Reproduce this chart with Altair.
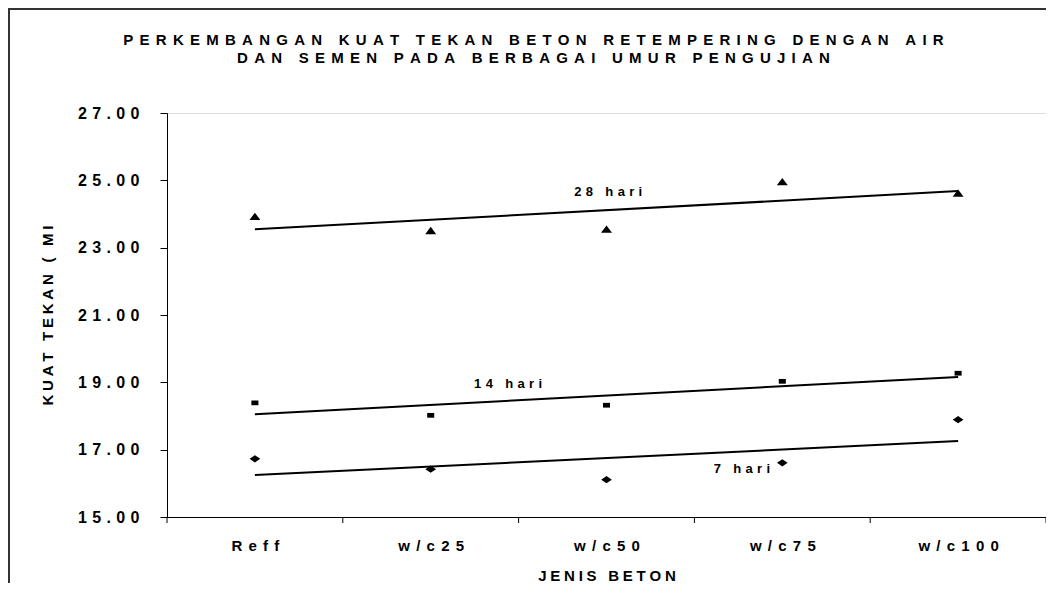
import json
import altair as alt
import pandas as pd

# ---------------- data ----------------
categories = ["Reff", "w/c25", "w/c50", "w/c75", "w/c100"]
cat_index = [0, 1, 2, 3, 4]
series_names = ["28 hari", "14 hari", "7 hari"]
values_28 = [23.93, 23.51, 23.55, 24.96, 24.62]
values_14 = [18.39, 18.02, 18.32, 19.03, 19.27]
values_7 = [16.73, 16.42, 16.11, 16.61, 17.89]
label_text = ["28 hari", "14 hari", "7 hari"]
label_x = [2.01, 1.44, 2.77]
label_y = [24.64, 18.96, 16.42]
y_ticks = [15, 17, 19, 21, 23, 25, 27]
x_bounds = [-0.5, 0.5, 1.5, 2.5, 3.5, 4.5]

title_lines = ["PERKEMBANGAN KUAT TEKAN BETON RETEMPERING DENGAN AIR",
               "DAN SEMEN PADA BERBAGAI UMUR PENGUJIAN"]
y_title = "KUAT TEKAN ( MI"
x_title = "JENIS BETON"

# ---------------- styling ----------------
FONT = "Liberation Sans"
GAP = "\u2005\u2006"
TPS = "\u2004"
FPS = "\u2005"


def spaced(s, sep=GAP):
    return sep.join(s)


W, H = 879, 404

rows = []
for name, vals in zip(series_names, [values_28, values_14, values_7]):
    for c, i, v in zip(categories, cat_index, vals):
        rows.append({"cat": c, "idx": i, "series": name, "value": v})
df = pd.DataFrame(rows)
labels_df = pd.DataFrame({"label": [spaced(t, TPS) for t in label_text],
                          "lx": label_x, "ly": label_y})
bounds_df = pd.DataFrame({"b": x_bounds})

x_scale = alt.Scale(domain=[-0.5, 4.5], nice=False, zero=False)
y_scale = alt.Scale(domain=[15, 27], nice=False, zero=False)

cat_labels = json.dumps([spaced(c) for c in categories], ensure_ascii=False)
x_axis = alt.Axis(
    values=cat_index, labelExpr=f"{cat_labels}[datum.value]",
    ticks=False, tickSize=0, labelPadding=21, grid=False,
    domainColor="black", domainWidth=1,
    labelFont=FONT, labelFontSize=15, labelFontWeight="bold", labelColor="black",
    titleFont=FONT, titleFontSize=15, titleFontWeight="bold", titleColor="black",
    titleX=W / 2, titleY=58, titleBaseline="middle", titleAlign="center",
)
y_axis = alt.Axis(
    values=y_ticks,
    labelExpr=f"join(split(format(datum.value, '.2f'), ''), '{TPS}')",
    tickSize=7, tickColor="black", labelPadding=21, grid=False,
    domainColor="black", domainWidth=1,
    labelFont=FONT, labelFontSize=16, labelFontWeight="bold", labelColor="black",
    titleFont=FONT, titleFontSize=15, titleFontWeight="bold", titleColor="black",
    titleX=-120, titleY=H / 2, titleAngle=270, titleBaseline="middle", titleAlign="center",
)

shape_paths = [
    "M0,-0.66L1,0.66L-1,0.66Z",
    "M-0.64,-0.43L0.64,-0.43L0.64,0.43L-0.64,0.43Z",
    "M0,-0.66L0.97,0L0,0.66L-0.97,0Z",
]

base = alt.Chart(df)

points = base.mark_point(filled=True, color="black", opacity=1, size=121, strokeWidth=0).encode(
    x=alt.X("idx:Q", scale=x_scale, axis=x_axis, title=spaced(x_title, FPS)),
    y=alt.Y("value:Q", scale=y_scale, axis=y_axis, title=spaced(y_title, FPS)),
    shape=alt.Shape("series:N", scale=alt.Scale(domain=series_names, range=shape_paths), legend=None),
)

trend = base.transform_regression("idx", "value", groupby=["series"]).mark_line(
    color="black", strokeWidth=2
).encode(
    x=alt.X("idx:Q", scale=x_scale, axis=x_axis, title=spaced(x_title, FPS)),
    y=alt.Y("value:Q", scale=y_scale, axis=y_axis, title=spaced(y_title, FPS)),
    detail="series:N",
)

texts = alt.Chart(labels_df).mark_text(
    font=FONT, fontSize=13, fontWeight="bold", color="black", align="center", baseline="middle"
).encode(
    x=alt.X("lx:Q", scale=x_scale, axis=x_axis, title=spaced(x_title, FPS)),
    y=alt.Y("ly:Q", scale=y_scale, axis=y_axis, title=spaced(y_title, FPS)),
    text="label:N",
)

# category-boundary tick marks under the x axis (Excel style)
bound_ticks = alt.Chart(bounds_df).mark_rule(color="black", strokeWidth=1).encode(
    x=alt.X("b:Q", scale=x_scale, axis=x_axis, title=spaced(x_title, FPS)),
    y=alt.value(H), y2=alt.value(H + 6),
)

# chart-area frame
frame = alt.Chart(alt.Data(values=[{}])).mark_rect(
    fill=None, stroke="#333333", strokeWidth=2
).encode(
    x=alt.value(-158), y=alt.value(-104), x2=alt.value(W + 300), y2=alt.value(H + 300)
)

title_marks = [
    alt.Chart(alt.Data(values=[{"t": spaced(line)}])).mark_text(
        font=FONT, fontSize=15, fontWeight="bold", color="black", align="center", baseline="middle"
    ).encode(text="t:N", x=alt.value(W / 2 - 73), y=alt.value(yy))
    for line, yy in zip(title_lines, [-73, -55])
]

chart = alt.layer(frame, bound_ticks, trend, points, texts, *title_marks).properties(
    width=W, height=H,
    autosize=alt.AutoSizeParams(type="none"),
    padding={"left": 159, "top": 105, "right": 0, "bottom": 66},
).configure_view(stroke=None).configure(background="white")

chart.save("out.html", embed_options={"renderer": "svg", "actions": False})
